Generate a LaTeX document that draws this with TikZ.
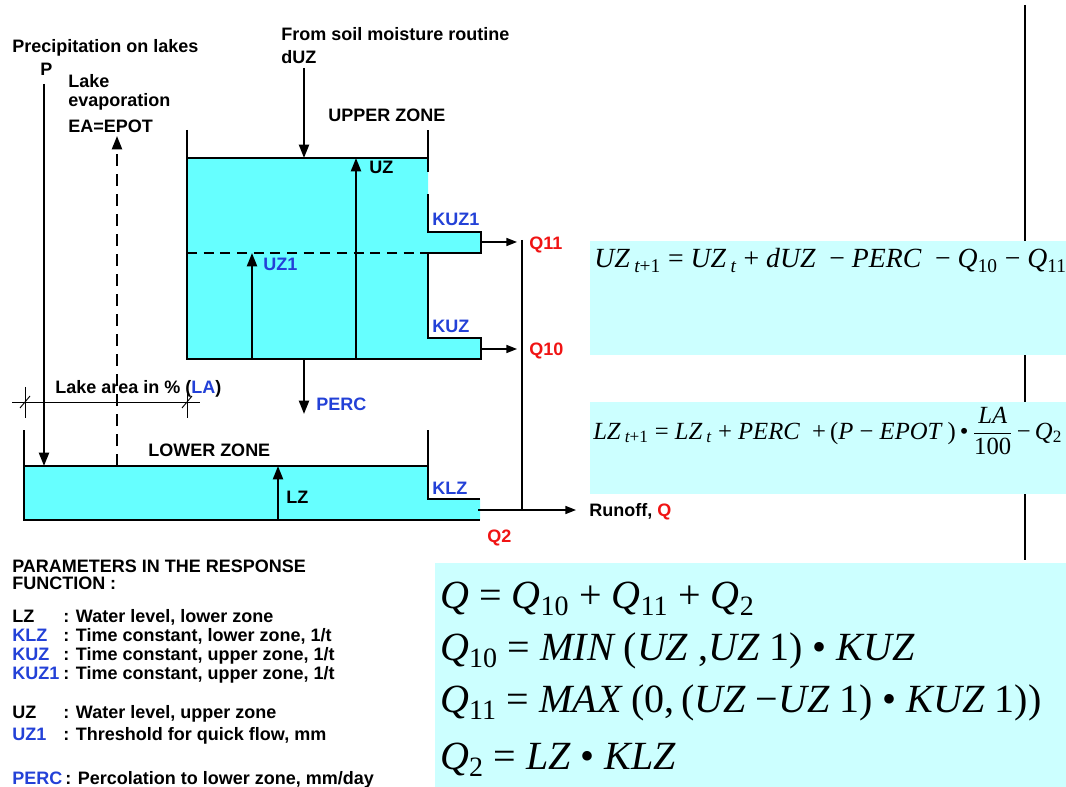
\documentclass[tikz,border=0pt]{standalone}
\usepackage{fontspec}
\setmainfont{Liberation Sans}
\newfontfamily\tnr{Liberation Serif}
\usetikzlibrary{arrows.meta}
\definecolor{water}{RGB}{102,255,255}
\definecolor{eqbg}{RGB}{204,255,255}
\definecolor{lblue}{RGB}{35,65,215}
\definecolor{lred}{RGB}{240,20,20}
\newcommand{\up}[1]{{\upshape #1}}
\newcommand{\sbt}[1]{\textsubscript{#1}}
\begin{document}
\begin{tikzpicture}[x=0.75pt,y=-0.75pt,
  lbl/.style={anchor=base west, inner sep=0pt, font=\fontsize{13.5}{16}\selectfont\bfseries},
  blbl/.style={lbl, text=lblue},
  rlbl/.style={lbl, text=lred},
  wall/.style={line width=1.6pt},
  arr/.style={line width=1.5pt, -{Triangle[length=10pt,width=7.5pt]}},
  sarr/.style={line width=1.2pt, -{Triangle[length=8pt,width=6pt]}},
  dimline/.style={line width=0.7pt},
  eqbox/.style={fill=eqbg, draw=none},
  eq/.style={anchor=base west, inner sep=0pt, font=\tnr\itshape #1},
  eq/.default={}]
\useasboundingbox (0,0) rectangle (1066,787);

% vertical line behind the formula boxes
\coordinate (vtop) at (1025,5);
\coordinate (vbot) at (1025,560);
\draw[line width=1.5pt] (vtop) -- (vbot);

% formula boxes
\fill[eqbox] (590,241) rectangle (1066,355);
\fill[eqbox] (590,402) rectangle (1066,494);
\fill[eqbox] (435,563) rectangle (1066,787);

% ---------- upper zone tank ----------
\fill[water] (187,158) -- (428,158) -- (428,232) -- (481,232) -- (481,253) -- (428,253)
  -- (428,338) -- (481,338) -- (481,359) -- (187,359) -- cycle;
\draw[wall] (187,130) -- (187,359) -- (481,359) -- (481,338) -- (428,338) -- (428,253)
  -- (481,253) -- (481,232) -- (428,232) -- (428,194);
\draw[wall] (428,172) -- (428,130);
\draw[wall] (187,158) -- (428,158);
\draw[wall, dash pattern=on 7.5pt off 5pt] (187,253) -- (428,253);

% ---------- lower zone tank ----------
\fill[water] (24,466) -- (428,466) -- (428,499) -- (480,499) -- (480,520) -- (24,520) -- cycle;
\draw[wall] (24,430) -- (24,520) -- (480,520);
\draw[wall] (428,430) -- (428,499) -- (480,499);
\draw[wall] (24,466) -- (428,466);

% ---------- coordinates ----------
\coordinate (duzS) at (304,68);  \coordinate (duzE) at (304,158);
\coordinate (uz1S) at (252,359); \coordinate (uz1E) at (252,253);
\coordinate (uzS) at (356,359);  \coordinate (uzE) at (356,158);
\coordinate (q11S) at (481,242); \coordinate (q11E) at (517,242);
\coordinate (q10S) at (481,349); \coordinate (q10E) at (517,349);
\coordinate (colT) at (522,240); \coordinate (colB) at (522,510);
\coordinate (runS) at (478,510); \coordinate (runE) at (576,510);
\coordinate (pS) at (44,84);     \coordinate (pE) at (44,466);
\coordinate (evS) at (117,466);  \coordinate (evE) at (117,136);
\coordinate (percS) at (304,359); \coordinate (percE) at (304,414);
\coordinate (lzS) at (278,520);  \coordinate (lzE) at (278,466);

% ---------- arrows ----------
\draw[arr] (duzS) -- (duzE);
\draw[arr] (uz1S) -- (uz1E);
\draw[arr] (uzS) -- (uzE);
\draw[sarr] (q11S) -- (q11E);
\draw[sarr] (q10S) -- (q10E);
\draw[line width=1.2pt] (colT) -- (colB);
\draw[sarr] (runS) -- (runE);
\draw[arr] (pS) -- (pE);
\draw[arr, dash pattern=on 9pt off 6pt] (evS) -- (evE);
\draw[arr] (percS) -- (percE);
\draw[arr] (lzS) -- (lzE);

% ---------- lake area dimension ----------
\draw[dimline] (12,402) -- (200,402);
\draw[dimline] (25,387) -- (25,418);
\draw[dimline] (187,387) -- (187,418);
\draw[dimline] (20,408) -- (30,396);
\draw[dimline] (182,408) -- (192,396);

% ---------- labels ----------
\node[lbl] (precip) at (12,53) {Precipitation on lakes};
\node[lbl] (p) at (40,76) {P};
\node[lbl] (lake) at (68,88) {Lake};
\node[lbl] (evap) at (68,107) {evaporation};
\node[lbl] (ea) at (68,133) {EA=EPOT};
\node[lbl] (from) at (281,41) {From soil moisture routine};
\node[lbl] (duz) at (281,64) {dUZ};
\node[lbl] (upz) at (328,122) {UPPER ZONE};
\node[lbl] (uzl) at (369,174) {UZ};
\node[blbl] (kuz1) at (432,226) {KUZ1};
\node[blbl] (uz1l) at (263,271) {UZ1};
\node[blbl] (kuz) at (432,333) {KUZ};
\node[rlbl] (q11) at (529,250) {Q11};
\node[rlbl] (q10) at (529,356) {Q10};
\node[lbl] (la) at (55,393) {Lake area in \% (\textcolor{lblue}{LA})};
\node[blbl] (perc) at (316,411) {PERC};
\node[lbl] (lowz) at (148,456) {LOWER ZONE};
\node[lbl] (lzl) at (286,503) {LZ};
\node[blbl] (klz) at (432,494) {KLZ};
\node[rlbl] (q2) at (487,542) {Q2};
\node[lbl] (runoff) at (589,516) {Runoff, \textcolor{lred}{Q}};

% ---------- parameters ----------
\node[lbl] (ph1) at (12,572) {PARAMETERS IN THE RESPONSE};
\node[lbl] (ph2) at (12,589) {FUNCTION :};
\node[lbl] (k1) at (12,622) {LZ};   \node[lbl] (d1) at (63,622) {: Water level, lower zone};
\node[blbl] (k2) at (12,641) {KLZ}; \node[lbl] (d2) at (63,641) {: Time constant, lower zone, 1/t};
\node[blbl] (k3) at (12,660) {KUZ}; \node[lbl] (d3) at (63,660) {: Time constant, upper zone, 1/t};
\node[blbl] (k4) at (12,679) {KUZ1}; \node[lbl] (d4) at (63,679) {: Time constant, upper zone, 1/t};
\node[lbl] (k5) at (12,718) {UZ};   \node[lbl] (d5) at (63,718) {: Water level, upper zone};
\node[blbl] (k6) at (12,740) {UZ1}; \node[lbl] (d6) at (63,740) {: Threshold for quick flow, mm};
\node[blbl] (k7) at (12,784) {PERC}; \node[lbl] (d7) at (65,784) {: Percolation to lower zone, mm/day};

% ---------- equations ----------
\node[eq={\fontsize{20.8}{24}\selectfont}] (equz) at (594,268)
  {UZ\,\sbt{t\up{+1}} \up{=} UZ\,\sbt{t} \up{+} dUZ \ \up{−} PERC \ \up{−} Q\sbt{\up{10}} \up{−} Q\sbt{\up{11}}};
\node[eq={\fontsize{18.5}{22}\selectfont}] (eqlz) at (593,439)
  {LZ\,\sbt{t\up{+1}} \up{=} LZ\,\sbt{t} \up{+} PERC \ \up{+}\,\up{(}P \up{−} EPOT\ \up{)}\,\up{•}\,$\displaystyle\frac{\mbox{\tnr\itshape LA}}{\mbox{\tnr\upshape 100}}$\,\up{−}\,Q\sbt{\up{2}}};
\node[eq={\fontsize{30}{34}\selectfont}] (eq1) at (440,608)
  {Q \up{=} Q\sbt{\up{10}} \up{+} Q\sbt{\up{11}} \up{+} Q\sbt{\up{2}}};
\node[eq={\fontsize{30}{34}\selectfont}] (eq2) at (440,660)
  {Q\sbt{\up{10}} \up{=} MIN \up{(}UZ \up{,}UZ\ \up{1)} \up{•} KUZ};
\node[eq={\fontsize{30}{34}\selectfont}] (eq3) at (440,712)
  {Q\sbt{\up{11}} \up{=} MAX \up{(0,\,(}UZ \up{−}UZ\ \up{1)} \up{•} KUZ\ \up{1))}};
\node[eq={\fontsize{30}{34}\selectfont}] (eq4) at (440,769)
  {Q\sbt{\up{2}} \up{=} LZ \up{•} KLZ};
\end{tikzpicture}
\end{document}
